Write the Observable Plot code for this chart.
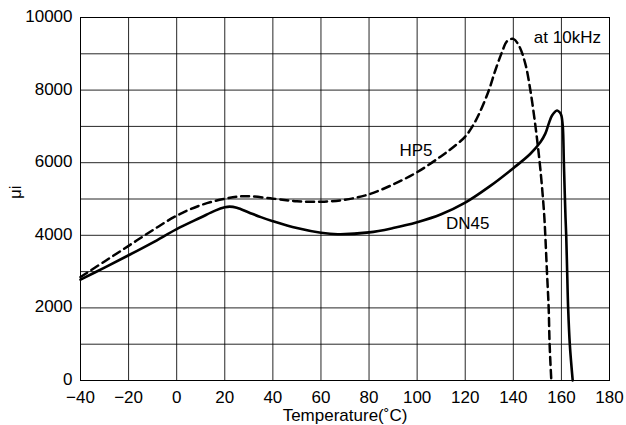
<!DOCTYPE html>
<html><head><meta charset="utf-8">
<script src="https://cdn.jsdelivr.net/npm/d3@7"></script>
<script src="https://cdn.jsdelivr.net/npm/@observablehq/plot@0.6"></script>
<style>body{margin:0;background:#fff;}</style>
</head><body><div id="chart"></div>
<script>
// DN45 (solid)
const tempDN45 = [-40,-30,-20,-10,0,10,16,20,22,25,30,35,40,50,60,67,80,90,100,110,120,130,140,147,151.3,153.3,154.7,156.1,158.2,159.4,160,160.6,161,161.4,161.7,162,162.4,162.8,163.5,164.7];
const muDN45   = [2780,3110,3450,3800,4170,4490,4680,4770,4790,4760,4630,4500,4390,4200,4070,4030,4080,4200,4360,4580,4900,5340,5850,6240,6570,6800,7070,7300,7440,7380,7300,6980,6060,5140,4500,3990,2980,2000,990,0];
// HP5 (dashed)
const tempHP5 = [-40,-30,-20,-10,0,10,20,28,40,50,60,70,80,90,100,110,116,120,123,126,129.8,132.5,135.3,137.4,140,142.3,145,147.1,148.9,150.1,151.3,152.4,152.9,153.3,154,154.7,155.1,155.8];
const muHP5   = [2850,3280,3710,4140,4540,4830,5005,5077,5010,4940,4925,4980,5130,5400,5740,6180,6480,6720,7000,7380,7990,8540,9046,9348,9412,9229,8724,7990,7160,6520,5785,4960,4500,4000,2980,2000,990,0];

const xTicks = [-40,-20,0,20,40,60,80,100,120,140,160,180];
const yTicks = [0,2000,4000,6000,8000,10000];
const yGrid  = [0,1000,2000,3000,4000,5000,6000,7000,8000,9000,10000];

const labelText = ["at 10kHz","HP5","DN45"];
const labelTemp = [162.5,99.5,121];
const labelMu   = [9435,6336,4311];

const dn45 = tempDN45.map((t,i)=>({t, mu: muDN45[i]}));
const hp5  = tempHP5.map((t,i)=>({t, mu: muHP5[i]}));
const labels = labelText.map((s,i)=>({s, t: labelTemp[i], mu: labelMu[i]}));

const FS = 17;
const chart = Plot.plot({
  width: 626, height: 425,
  marginLeft: 80, marginRight: 17, marginTop: 17, marginBottom: 45,
  style: {fontFamily: "'Liberation Sans', Arial, sans-serif", fontSize: FS + "px", color: "black", background: "white"},
  x: {domain: [-40,180], label: null},
  y: {domain: [0,10000], label: null},
  marks: [
    Plot.gridX(xTicks, {stroke: "black", strokeOpacity: 0.85, strokeWidth: 1}),
    Plot.gridY(yGrid, {stroke: "black", strokeOpacity: 0.85, strokeWidth: 1}),
    Plot.frame({stroke: "black", strokeWidth: 1}),
    Plot.axisX(xTicks, {tickSize: 0, tickPadding: 10, label: null}),
    Plot.axisY(yTicks, {tickSize: 0, tickPadding: 8, label: null, dy: -1, tickFormat: d => String(d)}),
    Plot.line(hp5, {x: "t", y: "mu", curve: "catmull-rom", stroke: "black", strokeWidth: 2.5, strokeDasharray: "8,5"}),
    Plot.line(dn45, {x: "t", y: "mu", curve: "catmull-rom", stroke: "black", strokeWidth: 2.6}),
    Plot.text(labels, {x: "t", y: "mu", text: "s", fontSize: FS, fill: "black", textAnchor: "middle", lineAnchor: "middle"}),
    Plot.text(["Temperature(˚C)"], {frameAnchor: "bottom", lineAnchor: "middle", dy: 35, fontSize: FS, fill: "black"}),
    Plot.text(["μi"], {frameAnchor: "left", lineAnchor: "middle", dx: -65, rotate: -90, fontSize: FS, fill: "black"})
  ]
});
document.getElementById("chart").appendChild(chart);
</script>
</body></html>
